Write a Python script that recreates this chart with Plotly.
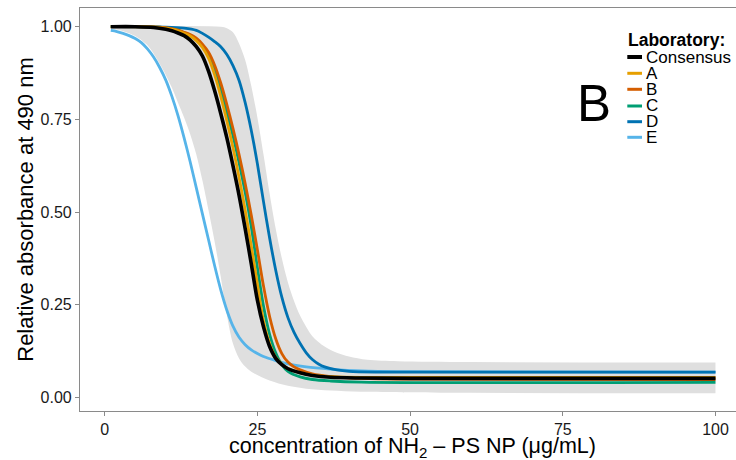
import plotly.graph_objects as go

# ---- data ----
consensus_x = [1, 5, 8, 10, 11, 12, 13, 14, 15, 16, 17, 18, 19, 20, 21, 22, 23, 24, 25, 26, 27, 28, 29, 30, 32, 34, 37, 42, 50, 100]
consensus_y = [1.0, 1.0, 0.998, 0.993, 0.989, 0.983, 0.976, 0.964, 0.946, 0.921, 0.880, 0.827, 0.766, 0.700, 0.625, 0.545, 0.455, 0.360, 0.262, 0.190, 0.137, 0.105, 0.088, 0.077, 0.066, 0.059, 0.054, 0.052, 0.051, 0.051]

a_x = [1, 8, 10, 11, 12, 13, 14, 15, 16, 17, 18, 19, 20, 21, 22, 23, 24, 25, 26, 27, 28, 29, 30, 32, 34, 37, 42, 100]
a_y = [1.0, 0.999, 0.996, 0.993, 0.989, 0.982, 0.975, 0.962, 0.944, 0.915, 0.870, 0.812, 0.746, 0.674, 0.593, 0.505, 0.408, 0.305, 0.206, 0.145, 0.107, 0.090, 0.078, 0.066, 0.060, 0.056, 0.054, 0.054]

b_x = [1, 9, 11, 12, 13, 14, 15, 16, 17, 18, 19, 20, 21, 22, 23, 24, 25, 26, 27, 28, 29, 30, 31, 32, 34, 37, 42, 50, 100]
b_y = [1.0, 0.999, 0.995, 0.991, 0.985, 0.979, 0.969, 0.953, 0.931, 0.896, 0.848, 0.790, 0.726, 0.655, 0.577, 0.491, 0.398, 0.300, 0.218, 0.158, 0.118, 0.095, 0.082, 0.074, 0.063, 0.056, 0.051, 0.049, 0.048]

c_x = [1, 9, 11, 12, 13, 14, 15, 16, 17, 18, 19, 20, 21, 22, 23, 24, 25, 26, 27, 28, 29, 30, 32, 34, 37, 42, 100]
c_y = [1.0, 0.999, 0.994, 0.990, 0.984, 0.977, 0.966, 0.950, 0.926, 0.886, 0.832, 0.769, 0.706, 0.633, 0.553, 0.460, 0.350, 0.246, 0.170, 0.120, 0.088, 0.070, 0.055, 0.048, 0.044, 0.041, 0.040]

d_x = [1, 10, 13, 15, 16, 17, 18, 19, 20, 21, 22, 23, 24, 25, 26, 27, 28, 29, 30, 31, 32, 33, 34, 35, 36, 38, 40, 45, 100]
d_y = [1.0, 0.999, 0.996, 0.990, 0.982, 0.972, 0.960, 0.946, 0.925, 0.895, 0.855, 0.795, 0.720, 0.630, 0.528, 0.430, 0.343, 0.270, 0.215, 0.175, 0.145, 0.120, 0.102, 0.090, 0.082, 0.074, 0.070, 0.068, 0.068]

e_x = [1, 2, 3, 4, 5, 6, 7, 8, 9, 10, 11, 12, 13, 14, 15, 16, 17, 18, 19, 20, 21, 22, 23, 24, 25, 26, 28, 30, 33, 37, 42, 50, 100]
e_y = [0.990, 0.987, 0.982, 0.976, 0.968, 0.957, 0.940, 0.918, 0.890, 0.856, 0.812, 0.760, 0.700, 0.635, 0.565, 0.495, 0.425, 0.355, 0.290, 0.235, 0.192, 0.162, 0.142, 0.128, 0.118, 0.110, 0.099, 0.090, 0.082, 0.076, 0.071, 0.069, 0.068]

band_upper_x = [1, 19, 20, 21, 22, 23, 24, 25, 26, 27, 28, 29, 30, 31, 32, 33, 34, 36, 38, 40, 43, 48, 60, 100]
band_upper_y = [1.0, 1.0, 0.996, 0.985, 0.955, 0.910, 0.840, 0.755, 0.655, 0.550, 0.455, 0.375, 0.310, 0.260, 0.220, 0.190, 0.165, 0.137, 0.120, 0.110, 0.101, 0.097, 0.095, 0.094]
band_lower_x = [1, 3, 5, 7, 8, 9, 10, 11, 12, 13, 14, 15, 16, 17, 18, 19, 20, 21, 22, 23, 24, 26, 28, 30, 33, 37, 42, 60, 100]
band_lower_y = [0.995, 0.988, 0.975, 0.950, 0.928, 0.900, 0.870, 0.835, 0.795, 0.755, 0.710, 0.655, 0.585, 0.505, 0.420, 0.325, 0.222, 0.145, 0.105, 0.083, 0.069, 0.052, 0.040, 0.031, 0.023, 0.018, 0.015, 0.012, 0.011]

labs = ["Consensus", "A", "B", "C", "D", "E"]
colors = ["#000000", "#E69F00", "#D55E00", "#009E73", "#0072B2", "#56B4E9"]
x_ticks = [0, 25, 50, 75, 100]
y_ticks = [0.0, 0.25, 0.5, 0.75, 1.0]
x_title = "concentration of NH<sub>2</sub> \u2013 PS NP (\u03bcg/mL)"
y_title = "Relative absorbance at 490 nm"

series = {
    "Consensus": (consensus_x, consensus_y),
    "A": (a_x, a_y), "B": (b_x, b_y), "C": (c_x, c_y),
    "D": (d_x, d_y), "E": (e_x, e_y),
}

FONT = "Liberation Sans, Arial, Helvetica, sans-serif"
SPL = dict(shape="spline", smoothing=0.9)
fig = go.Figure()

fig.add_trace(go.Scatter(x=band_lower_x, y=band_lower_y, mode="lines",
                         line=dict(width=0, **SPL), hoverinfo="skip", showlegend=False))
fig.add_trace(go.Scatter(x=band_upper_x, y=band_upper_y, mode="lines", fill="tonexty",
                         fillcolor="#dfdfdf", line=dict(width=0, **SPL),
                         hoverinfo="skip", showlegend=False))

draw_order = ["E", "D", "C", "B", "A", "Consensus"]
for name in draw_order:
    xs, ys = series[name]
    col = colors[labs.index(name)]
    fig.add_trace(go.Scatter(
        x=xs, y=ys, mode="lines", name=name,
        line=dict(color=col, width=3.6 if name == "Consensus" else 2.8, **SPL),
        showlegend=False))

# plot-area geometry (pixels)
L, R, T, B = 80, 736, 8, 411
def px2paper(px, py):
    return (px - L) / (R - L), (B - py) / (B - T)

annotations = []
shapes = []
lx, ly = px2paper(626, 40)
annotations.append(dict(x=lx, y=ly, xref="paper", yref="paper", text="<b>Laboratory:</b>",
                        showarrow=False, xanchor="left", yanchor="middle",
                        font=dict(family=FONT, size=17.5, color="#000")))
item_y = [57, 73.3, 89.3, 106, 121.7, 137.3]
for i, name in enumerate(labs):
    x0, yy = px2paper(627.3, item_y[i])
    x1, _ = px2paper(642, item_y[i])
    shapes.append(dict(type="line", xref="paper", yref="paper", x0=x0, x1=x1, y0=yy, y1=yy,
                       line=dict(color=colors[i], width=4 if i == 0 else 3)))
    tx, _ = px2paper(644, item_y[i])
    annotations.append(dict(x=tx, y=yy, xref="paper", yref="paper", text=name,
                            showarrow=False, xanchor="left", yanchor="middle",
                            font=dict(family=FONT, size=17, color="#000")))
bx, by = px2paper(594, 103)
annotations.append(dict(x=bx, y=by, xref="paper", yref="paper", text="B", showarrow=False,
                        xanchor="center", yanchor="middle",
                        font=dict(family=FONT, size=51, color="#000")))
# x-axis title
xtx, xty = px2paper(412, 447)
annotations.append(dict(x=xtx, y=xty, xref="paper", yref="paper", text=x_title,
                        showarrow=False, xanchor="center", yanchor="middle",
                        font=dict(family=FONT, size=21.5, color="#000")))

fig.update_layout(
    width=736, height=460,
    margin=dict(l=L, r=736 - R, t=T, b=460 - B),
    plot_bgcolor="white", paper_bgcolor="white",
    font=dict(family=FONT, color="#1a1a1a"),
    annotations=annotations, shapes=shapes,
    xaxis=dict(range=[-4.044, 103.36], tickvals=x_ticks, ticks="outside", ticklen=4,
               tickcolor="#8a8a8a", showline=True, linecolor="#8a8a8a", linewidth=1.2,
               mirror=True, showgrid=False, zeroline=False,
               tickfont=dict(size=16, color="#1a1a1a")),
    yaxis=dict(range=[-0.037, 1.0505], tickvals=y_ticks, tickformat=".2f", ticks="outside",
               ticklen=4, tickcolor="#8a8a8a", showline=True, linecolor="#8a8a8a",
               linewidth=1.2, showgrid=False, zeroline=False,
               tickfont=dict(size=16, color="#1a1a1a"),
               title=dict(text=y_title, font=dict(size=22, color="#000"), standoff=0)),
)

fig.write_html("out.html")
